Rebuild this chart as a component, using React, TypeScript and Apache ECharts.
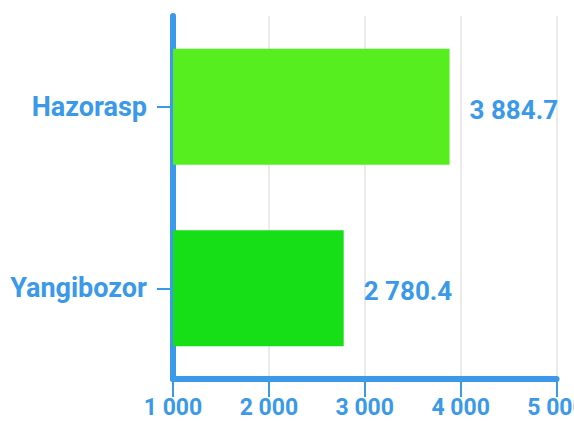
import React, { useEffect, useRef } from "react";
import * as echarts from "echarts";

const categories = ["Yangibozor", "Hazorasp"];
const values = [2780.4, 3884.7];
const barColors = ["#17DF17", "#57EE1F"];
const xTicks = [1000, 2000, 3000, 4000, 5000];

const BLUE = "#3A99E9";
const FONT = "Roboto, 'Liberation Sans', sans-serif";

function fmt(v: number, decimals: number): string {
  const s = v.toFixed(decimals);
  const [int, dec] = s.split(".");
  const withSp = int.replace(/\B(?=(\d{3})+(?!\d))/g, " ");
  return dec !== undefined ? withSp + "." + dec : withSp;
}

export default function App() {
  const ref = useRef<HTMLDivElement>(null);
  useEffect(() => {
    if (!ref.current) return;
    const chart = echarts.init(ref.current, undefined, { renderer: "svg" });
    chart.setOption({
      animation: false,
      backgroundColor: "#ffffff",
      grid: { left: 173, right: 17.5, top: 16, bottom: 42, containLabel: false, outerBoundsMode: "none" },
      xAxis: {
        type: "value",
        min: xTicks[0],
        max: xTicks[xTicks.length - 1],
        interval: 1000,
        axisLine: { show: true, lineStyle: { color: BLUE, width: 6 } },
        axisTick: { show: true, length: 18, lineStyle: { color: BLUE, width: 2 } },
        splitLine: { show: true, lineStyle: { color: "#EBEBEB", width: 2 } },
        axisLabel: {
          color: BLUE,
          fontFamily: FONT,
          fontWeight: "bold",
          fontSize: 23,
          margin: 17,
          formatter: (v: number) => fmt(v, 0),
        },
      },
      yAxis: {
        type: "category",
        data: categories,
        axisLine: { show: true, lineStyle: { color: BLUE, width: 6 } },
        axisTick: { show: true, alignWithLabel: true, length: 16, lineStyle: { color: BLUE, width: 2 } },
        splitLine: { show: false },
        axisLabel: {
          color: BLUE,
          fontFamily: FONT,
          fontWeight: "bold",
          fontSize: 27,
          margin: 26,
        },
      },
      series: [
        {
          type: "bar",
          barCategoryGap: "36%",
          data: values.map((v, i) => ({ value: v, itemStyle: { color: barColors[i] } })),
          label: {
            show: true,
            position: "right",
            distance: 20,
            color: BLUE,
            fontFamily: FONT,
            fontWeight: "bold",
            fontSize: 26,
            offset: [0, 3],
            formatter: (p: any) => fmt(p.value, 1),
          },
        },
      ],
    });
    return () => chart.dispose();
  }, []);
  return (
    <div
      ref={ref}
      style={{ position: "fixed", left: 0, top: 0, width: "574px", height: "421px" }}
    />
  );
}
